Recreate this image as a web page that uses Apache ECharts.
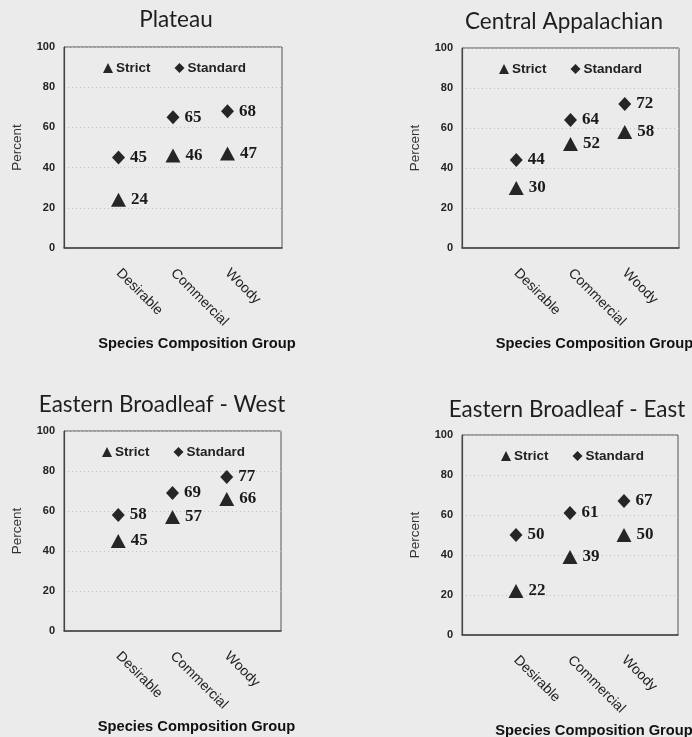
<!DOCTYPE html>
<html>
<head>
<meta charset="utf-8">
<script src="https://cdn.jsdelivr.net/npm/echarts@6/dist/echarts.min.js"></script>
<style>
  html, body { margin: 0; padding: 0; background: #ecebeb; }
  #chart { width: 692px; height: 737px; }
</style>
</head>
<body>
<div id="chart"></div>
<script>
// Category slots: blank padding slot on each side of the three groups
const categories = ['', 'Desirable', 'Commercial', 'Woody', ''];
const groups = ['Desirable', 'Commercial', 'Woody'];
const yTicks = [0, 20, 40, 60, 80, 100];

const regionNames = ['Plateau', 'Central Appalachian', 'Eastern Broadleaf - West', 'Eastern Broadleaf - East'];

const plateauStrict = [24, 46, 47];
const plateauStandard = [45, 65, 68];
const centralStrict = [30, 52, 58];
const centralStandard = [44, 64, 72];
const westStrict = [45, 57, 66];
const westStandard = [58, 69, 77];
const eastStrict = [22, 39, 50];
const eastStandard = [50, 61, 67];

const strictSets = [plateauStrict, centralStrict, westStrict, eastStrict];
const standardSets = [plateauStandard, centralStandard, westStandard, eastStandard];

// Panel layout
const grids = [
  { left: 64, top: 47, width: 218, height: 201 },
  { left: 462, top: 48, width: 217, height: 200 },
  { left: 64, top: 431, width: 217, height: 200 },
  { left: 462, top: 435, width: 216, height: 200 }
];
const titlePos = [[176, 8], [564, 10], [162, 393], [567, 398]];
const legendPos = [[103, 61], [499, 62], [102, 445], [501, 449]];

const SANS = 'Liberation Sans, Arial, sans-serif';
const SERIF = 'Liberation Serif, Times New Roman, serif';
const MARK = '#262626';

const option = {
  backgroundColor: '#ecebeb',
  animation: false,
  title: regionNames.map((t, i) => ({
    text: t,
    left: titlePos[i][0],
    top: titlePos[i][1],
    textAlign: 'center',
    padding: 0,
    textStyle: { fontFamily: 'Lato, Open Sans, sans-serif', fontSize: 22.5, fontWeight: 'normal', color: '#1e1e1e' }
  })),
  legend: legendPos.map((p) => ({
    left: p[0],
    top: p[1],
    padding: 0,
    itemWidth: 10,
    itemHeight: 10,
    itemGap: 24,
    data: [{ name: 'Strict', icon: 'triangle' }, { name: 'Standard', icon: 'diamond' }],
    itemStyle: { opacity: 1 },
    textStyle: { fontFamily: SANS, fontSize: 13.5, fontWeight: 'bold', color: '#222', padding: [0, 0, 0, -2] },
    selectedMode: false
  })),
  grid: grids.map((g) => ({
    left: g.left, top: g.top, width: g.width, height: g.height,
    outerBoundsMode: 'none',
    containLabel: false,
    show: true, borderColor: '#555', borderWidth: 1, backgroundColor: 'transparent'
  })),
  xAxis: grids.map((g, i) => ({
    type: 'category',
    gridIndex: i,
    data: categories,
    boundaryGap: false,
    axisTick: { show: false },
    axisLine: { lineStyle: { color: '#444', width: 1.5 } },
    splitLine: { show: false },
    axisLabel: {
      rotate: -45,
      margin: 23,
      interval: 0,
      fontFamily: SANS,
      fontSize: 14,
      color: '#222'
    },
    name: 'Species Composition Group',
    nameLocation: 'middle',
    nameGap: 88,
    nameTextStyle: { fontFamily: SANS, fontSize: 14.7, fontWeight: 'bold', color: '#111', padding: [0, 0, 0, 48] }
  })),
  yAxis: grids.map((g, i) => ({
    type: 'value',
    gridIndex: i,
    min: yTicks[0],
    max: yTicks[yTicks.length - 1],
    interval: 20,
    axisTick: { show: false },
    axisLine: { show: true, lineStyle: { color: '#444', width: 1.2 } },
    splitLine: { show: true, lineStyle: { color: '#c2c2c2', type: [1, 3], width: 1 } },
    axisLabel: { margin: 9, fontFamily: SANS, fontSize: 11, fontWeight: 'bold', color: '#222' },
    name: 'Percent',
    nameLocation: 'middle',
    nameRotate: 90,
    nameGap: 40,
    nameTextStyle: { fontFamily: SANS, fontSize: 13.5, color: '#333' }
  })),
  series: []
};

function pointsOf(values) {
  return groups.map((g, k) => [g, values[k]]);
}

const valueLabel = {
  show: true,
  position: 'right',
  distance: 5,
  formatter: (p) => String(p.value[1]),
  fontFamily: SERIF,
  fontSize: 17,
  fontWeight: 'bold',
  color: '#1a1a1a'
};

for (let i = 0; i < 4; i++) {
  option.series.push({
    name: 'Strict',
    type: 'scatter',
    xAxisIndex: i,
    yAxisIndex: i,
    symbol: 'triangle',
    symbolSize: [15, 14],
    itemStyle: { color: MARK, opacity: 1 },
    label: valueLabel,
    data: pointsOf(strictSets[i])
  });
  option.series.push({
    name: 'Standard',
    type: 'scatter',
    xAxisIndex: i,
    yAxisIndex: i,
    symbol: 'diamond',
    symbolSize: [13, 14],
    itemStyle: { color: MARK, opacity: 1 },
    label: valueLabel,
    data: pointsOf(standardSets[i])
  });
}

const chart = echarts.init(document.getElementById('chart'), null, { renderer: 'canvas' });
chart.setOption(option);
</script>
</body>
</html>
